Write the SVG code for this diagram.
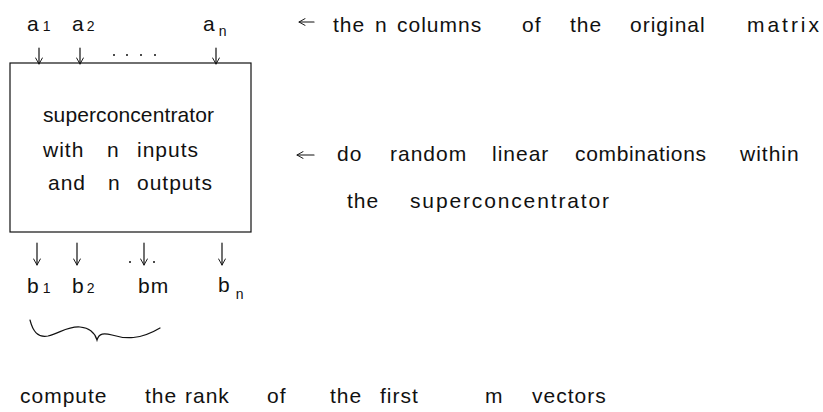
<svg xmlns="http://www.w3.org/2000/svg" width="823" height="412" viewBox="0 0 823 412">
<style>
text{font-family:"Liberation Sans","DejaVu Sans",sans-serif;font-size:21px;fill:#111;letter-spacing:1px;}
.sub{font-size:14px;}
.ln{stroke:#111;stroke-width:1.2;fill:none;stroke-linecap:round;}
.dot{fill:#111;}
</style>
<defs>
<marker id="ah" viewBox="0 0 10 10" refX="9" refY="5" markerWidth="8" markerHeight="8" markerUnits="userSpaceOnUse" orient="auto">
<path d="M1,0.5 L9,5 L1,9.5" fill="none" stroke="#111" stroke-width="1.2"/>
</marker>
</defs>
<rect width="823" height="412" fill="#fff"/>

<g id="inputs">
<text x="27" y="31">a<tspan class="sub" dx="3">1</tspan></text>
<text x="72" y="31">a<tspan class="sub" dx="2">2</tspan></text>
<text x="203" y="31">a<tspan class="sub" dx="3" dy="5">n</tspan></text>
<circle class="dot" cx="114" cy="55" r="1"/>
<circle class="dot" cx="127" cy="55" r="1"/>
<circle class="dot" cx="141" cy="55" r="1"/>
<circle class="dot" cx="155" cy="55" r="1"/>
</g>

<g id="superconcentrator">
<rect x="10" y="63" width="241" height="169" fill="none" stroke="#111" stroke-width="1.2"/>
<text x="43" y="122" textLength="172" lengthAdjust="spacing">superconcentrator</text>
<text x="43" y="157">with</text>
<text x="107" y="157">n</text>
<text x="137" y="157">inputs</text>
<text x="48" y="190">and</text>
<text x="108" y="190">n</text>
<text x="137" y="190">outputs</text>
</g>

<g id="outputs">
<text x="27" y="293">b<tspan class="sub" dx="3">1</tspan></text>
<text x="72" y="293">b<tspan class="sub" dx="2">2</tspan></text>
<text x="138" y="293">bm</text>
<text x="218" y="292">b<tspan class="sub" dx="5" dy="7">n</tspan></text>
<circle class="dot" cx="130" cy="262" r="1"/>
<circle class="dot" cx="154" cy="262" r="1"/>
</g>

<g id="brace">
<path class="ln" d="M30,320 C33,332 38,338 48,336 C60,333 68,326 80,327 C90,328 95,333 97,340 C99,333 104,333 112,335 C125,339 140,340 160,328"/>
</g>

<g id="note-columns">
<text x="333" y="32">the</text>
<text x="375" y="32">n</text>
<text x="397" y="32">columns</text>
<text x="522" y="32">of</text>
<text x="570" y="32">the</text>
<text x="630" y="32">original</text>
<text x="747" y="32" textLength="73" lengthAdjust="spacing">matrix</text>
</g>

<g id="note-random">
<text x="337" y="161">do</text>
<text x="390" y="161">random</text>
<text x="492" y="161">linear</text>
<text x="575" y="161" textLength="132" lengthAdjust="spacing">combinations</text>
<text x="740" y="161">within</text>
<text x="347" y="208">the</text>
<text x="410" y="208" textLength="200" lengthAdjust="spacing">superconcentrator</text>
</g>

<g id="note-rank">
<text x="20" y="403">compute</text>
<text x="145" y="403">the</text>
<text x="185" y="403">rank</text>
<text x="267" y="403">of</text>
<text x="330" y="403">the</text>
<text x="380" y="403">first</text>
<text x="485" y="403">m</text>
<text x="532" y="403">vectors</text>
</g>

<g id="connectors">
<path class="ln" marker-end="url(#ah)" d="M39,48 L39,64"/>
<path class="ln" marker-end="url(#ah)" d="M80,48 L80,64"/>
<path class="ln" marker-end="url(#ah)" d="M216,48 L216,64"/>
<path class="ln" marker-end="url(#ah)" d="M37,243 L37,265"/>
<path class="ln" marker-end="url(#ah)" d="M77,243 L77,265"/>
<path class="ln" marker-end="url(#ah)" d="M144,243 L144,265"/>
<path class="ln" marker-end="url(#ah)" d="M222,243 L222,265"/>
<path class="ln" marker-end="url(#ah)" d="M314,22 L299,22"/>
<path class="ln" marker-end="url(#ah)" d="M314,155 L297,155"/>
</g>
</svg>
